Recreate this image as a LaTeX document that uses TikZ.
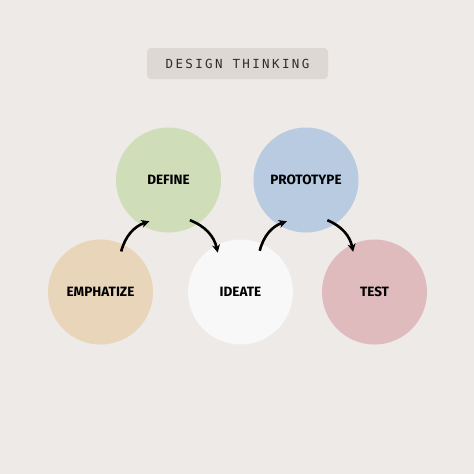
\documentclass[tikz,border=0pt]{standalone}
\usepackage{fontspec}
\newfontfamily\titlefont[LetterSpace=19]{DejaVu Sans Mono}
\newfontfamily\phasefont{Fira Sans}
\usetikzlibrary{arrows.meta}
\definecolor{bgcol}{HTML}{EEEAE8}
\definecolor{boxcol}{HTML}{DDD8D3}
\definecolor{titletext}{HTML}{2E2C2C}
\definecolor{emphcol}{HTML}{E8D5BA}
\definecolor{definecol}{HTML}{CFDDB8}
\definecolor{ideatecol}{HTML}{F8F8F8}
\definecolor{protocol}{HTML}{B9CBE0}
\definecolor{testcol}{HTML}{DFBBBD}
\tikzset{
  heading/.style={rectangle, rounded corners=4pt, fill=boxcol, minimum width=181pt,
    minimum height=31pt, text=titletext, font=\titlefont\fontsize{12.5}{14}\selectfont},
  phase/.style={circle, minimum size=105pt, inner sep=0pt, outer sep=-7pt,
    font=\phasefont\bfseries\fontsize{13.5}{15}\selectfont},
  flow/.style={-{Stealth[length=8pt,width=8pt]}, line width=2.6pt, bend left=28},
}
\begin{document}
\begin{tikzpicture}[x=1pt, y=-1pt]
    % Background
    \fill[bgcol] (0,0) rectangle (474,474);
    % Title
    \node[heading] (title) at (237.5,63.5) {DESIGN THINKING};
    % Phases
    \node[phase, fill=emphcol] (emphatize) at (100.5,292) {EMPHATIZE};
    \node[phase, fill=definecol] (define) at (168.5,180) {DEFINE};
    \node[phase, fill=ideatecol] (ideate) at (240.5,292) {IDEATE};
    \node[phase, fill=protocol] (prototype) at (306,180) {PROTOTYPE};
    \node[phase, fill=testcol] (test) at (374.5,292) {TEST};
    % Arrows
    \draw[flow] (emphatize.63) to (define.245);
    \draw[flow] (define.298) to (ideate.120);
    \draw[flow] (ideate.65) to (prototype.245);
    \draw[flow] (prototype.298) to (test.118);

  \end{tikzpicture}
\end{document}
